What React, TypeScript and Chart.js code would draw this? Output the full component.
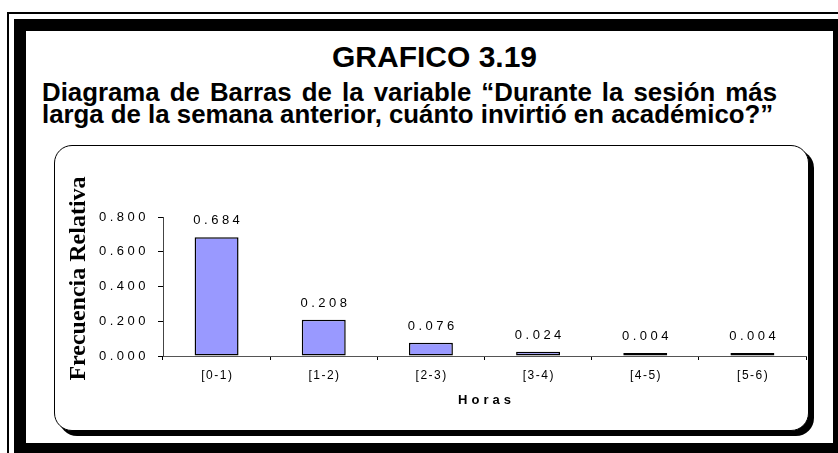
import React, { useEffect, useRef } from 'react';
import { Chart, registerables } from 'chart.js';

Chart.register(...registerables);

const categories = ['[0-1)', '[1-2)', '[2-3)', '[3-4)', '[4-5)', '[5-6)'];
const frecuencias = [0.684, 0.208, 0.076, 0.024, 0.004, 0.004];
const yTicks = [0, 0.2, 0.4, 0.6, 0.8];
const titulo = 'GRAFICO 3.19';
const subtitulo1 = 'Diagrama de Barras de la variable “Durante la sesión más';
const subtitulo2 = 'larga de la semana anterior, cuánto invirtió en académico?”';
const yTitulo = 'Frecuencia Relativa';
const xTitulo = 'Horas';

const SANS = '"Liberation Sans", Arial, Helvetica, sans-serif';
const SERIF = '"Liberation Serif", "Times New Roman", serif';

const spacingPlugin = {
  id: 'spacingPlugin',
  beforeDraw(chart: any) {
    const ctx = chart.ctx;
    Object.values(chart.scales).forEach((scale: any) => {
      if (scale.__patched) return;
      scale.__patched = true;
      const sp = scale.axis === 'x' ? 1.5 : 3.5;
      const origLabels = scale.drawLabels.bind(scale);
      scale.drawLabels = (ca: any) => {
        ctx.save();
        ctx.letterSpacing = sp + 'px';
        if (scale.axis === 'x') ctx.translate(sp / 2, 0);
        origLabels(ca);
        ctx.restore();
      };
      const origTitle = scale.drawTitle.bind(scale);
      scale.drawTitle = () => {
        ctx.save();
        ctx.letterSpacing = '4px';
        ctx.translate(2, 0);
        origTitle();
        ctx.restore();
      };
    });
  },
  afterDatasetsDraw(chart: any) {
    const ctx = chart.ctx;
    const meta = chart.getDatasetMeta(0);
    ctx.save();
    ctx.font = '13px ' + SANS;
    ctx.letterSpacing = '3.5px';
    ctx.fillStyle = '#000';
    ctx.textAlign = 'center';
    ctx.textBaseline = 'alphabetic';
    meta.data.forEach((bar: any, i: number) => {
      ctx.fillText(frecuencias[i].toFixed(3), bar.x + 1.75, bar.y - 13);
    });
    ctx.restore();
  },
  afterDraw(chart: any) {
    const ctx = chart.ctx;
    const ca = chart.chartArea;
    ctx.save();
    ctx.translate(ca.left - 78, (ca.top + ca.bottom) / 2 - 8);
    ctx.rotate(-Math.PI / 2);
    ctx.font = 'bold 24px ' + SERIF;
    ctx.fillStyle = '#000';
    ctx.textAlign = 'center';
    ctx.textBaseline = 'alphabetic';
    ctx.fillText(yTitulo, 0, 0);
    ctx.restore();
  },
};

function BarChart() {
  const ref = useRef<HTMLCanvasElement | null>(null);
  useEffect(() => {
    if (!ref.current) return;
    const chart = new Chart(ref.current, {
      type: 'bar',
      data: {
        labels: categories,
        datasets: [
          {
            data: frecuencias,
            backgroundColor: '#9999FF',
            borderColor: '#000',
            borderWidth: 1.5,
            borderSkipped: false,
            categoryPercentage: 1,
            barPercentage: 0.41,
            minBarLength: 3,
          },
        ],
      },
      options: {
        animation: false,
        responsive: false,
        maintainAspectRatio: false,
        layout: { padding: { left: 0, right: 2, top: 71, bottom: 0 } },
        plugins: {
          legend: { display: false },
          tooltip: { enabled: false },
          title: { display: false },
        },
        scales: {
          x: {
            grid: {
              display: true,
              drawOnChartArea: false,
              drawTicks: true,
              tickLength: 4,
              color: '#000',
              offset: true,
            },
            border: { display: true, color: '#555', width: 1 },
            ticks: {
              font: { family: SANS, size: 12 },
              color: '#000',
              padding: 8,
              maxRotation: 0,
              autoSkip: false,
            },
            title: {
              display: true,
              text: xTitulo,
              font: { family: SANS, size: 13, weight: 'bold' },
              color: '#000',
              padding: { top: 0, bottom: 22 },
            },
            afterFit: (s: any) => {
              s.height = 74;
            },
          },
          y: {
            min: 0,
            max: 0.8,
            grid: {
              drawOnChartArea: false,
              drawTicks: true,
              tickLength: 5,
              color: '#000',
            },
            border: { display: true, color: '#444', width: 1 },
            ticks: {
              callback: (v: any) => Number(v).toFixed(3),
              font: { family: SANS, size: 13 },
              color: '#000',
              padding: 9,
            },
            afterBuildTicks: (s: any) => {
              s.ticks = yTicks.map((v) => ({ value: v }));
            },
            afterFit: (s: any) => {
              s.width = 108;
            },
          },
        },
      } as any,
      plugins: [spacingPlugin as any],
    });
    return () => chart.destroy();
  }, []);
  return (
    <canvas
      ref={ref}
      width={753}
      height={284}
      style={{ position: 'absolute', left: 0, top: 0, width: 753, height: 284 }}
    />
  );
}

export default function App() {
  return (
    <div
      style={{
        position: 'absolute',
        left: 0,
        top: 0,
        width: 838,
        height: 453,
        overflow: 'hidden',
        background: '#fff',
        fontFamily: SANS,
        color: '#000',
      }}
    >
      <div
        style={{
          position: 'absolute',
          left: 7,
          top: 12,
          width: 900,
          height: 500,
          border: '2px solid #000',
          boxSizing: 'border-box',
        }}
      />
      <div
        style={{
          position: 'absolute',
          left: 14,
          top: 19,
          width: 831,
          height: 436,
          border: '12px solid #000',
          boxSizing: 'border-box',
          background: '#fff',
        }}
      />
      <div
        style={{
          position: 'absolute',
          left: 434.5,
          top: 41.6,
          transform: 'translateX(-50%)',
          fontSize: 30,
          lineHeight: 1,
          fontWeight: 'bold',
          whiteSpace: 'nowrap',
        }}
      >
        {titulo}
      </div>
      <div
        style={{
          position: 'absolute',
          left: 42,
          top: 79.7,
          width: 735,
          fontSize: 25.8,
          lineHeight: 1,
          fontWeight: 'bold',
          whiteSpace: 'nowrap',
          textAlign: 'justify',
          textAlignLast: 'justify',
        }}
      >
        {subtitulo1}
      </div>
      <div
        style={{
          position: 'absolute',
          left: 42,
          top: 102.2,
          fontSize: 25.8,
          lineHeight: 1,
          fontWeight: 'bold',
          whiteSpace: 'nowrap',
        }}
      >
        {subtitulo2}
      </div>
      <div
        style={{
          position: 'absolute',
          left: 54,
          top: 145,
          width: 755,
          height: 286,
          border: '1px solid #000',
          borderRadius: 18,
          boxShadow: '5px 5px 0 0 #000',
          boxSizing: 'border-box',
          background: '#fff',
        }}
      >
        <BarChart />
      </div>
    </div>
  );
}
